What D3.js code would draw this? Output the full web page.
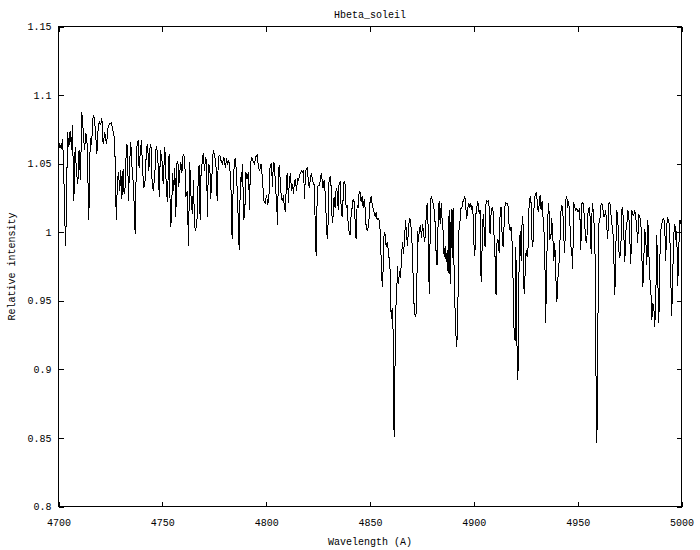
<!DOCTYPE html>
<html><head><meta charset="utf-8">
<script src="https://cdn.jsdelivr.net/npm/d3@7/dist/d3.min.js"></script>
<style>
body{margin:0;background:#fff}
text{font-family:"Liberation Mono","DejaVu Sans Mono",monospace;font-size:10px;fill:#000}
</style>
</head><body>
<svg id="chart" width="700" height="550"></svg>
<script>
const chartTitle = "Hbeta_soleil";
const xTitle = "Wavelength (A)";
const yTitle = "Relative intensity";
const xTicks = [4700, 4750, 4800, 4850, 4900, 4950, 5000];
const yTicks = [0.8, 0.85, 0.9, 0.95, 1, 1.05, 1.1, 1.15];

const wavelength = [
4700.0,4700.6,4701.4,4701.9,4702.4,4702.9,4703.4,4703.9,4704.3,4705.0,4705.6,4706.3,4706.7,4707.4,4708.0,4708.7,4709.3,4709.9,4710.6,4711.2,
4711.9,4712.5,4713.2,4713.8,4714.6,4715.3,4715.9,4716.7,4717.3,4718.0,4718.5,4718.9,4719.6,4720.2,4720.9,4721.5,4722.3,4723.1,4723.9,4724.7,
4725.5,4726.3,4726.9,4727.4,4727.8,4728.4,4728.9,4729.5,4730.0,4730.5,4731.1,4731.6,4732.1,4732.7,4733.2,4733.7,4734.3,4734.8,4735.5,4736.1,
4736.9,4737.6,4738.4,4738.8,4739.5,4740.0,4740.4,4741.1,4741.7,4742.4,4742.9,4743.5,4744.0,4744.5,4745.1,4745.7,4746.4,4746.9,4747.3,4748.0,
4748.5,4749.1,4749.8,4750.4,4751.2,
4752.0,4752.5,4753.0,4753.4,4753.9,4754.4,4754.9,4755.5,4756.0,4756.5,4757.0,4757.5,4757.9,4758.4,4758.9,4759.4,4759.9,4760.3,4760.8,4761.3,
4762.0,4762.6,4763.2,4763.9,4764.5,4765.0,4765.5,4766.1,4766.8,4767.2,4767.7,4768.2,4768.7,4769.2,4769.7,4770.3,4770.8,4771.3,4771.7,4772.2,
4772.9,4773.3,4774.0,4774.5,4775.1,4775.8,4776.4,4777.0,4777.7,4778.3,4779.0,4779.6,4780.4,4780.9,4781.4,4782.0,4782.5,4783.1,4783.6,4784.1,
4784.7,4785.2,4785.7,4786.3,4787.0,4787.6,4788.1,4788.6,4789.2,4789.7,4790.2,4790.8,4791.5,4792.0,4792.4,4793.1,4793.7,4794.4,4795.0,4795.7,
4796.3,4796.9,4797.6,4798.2,4798.9,4799.5,4800.2,4800.8,4801.4,4801.9,
4802.6,4803.0,4803.5,4804.0,4804.5,4805.0,4805.5,4805.9,4806.4,4806.9,4807.4,4807.9,4808.3,4808.8,4809.3,4809.8,4810.3,4810.7,4811.2,4811.7,
4812.2,4812.7,4813.2,4813.6,4814.1,4814.6,4815.1,4815.6,4816.0,4816.5,4817.0,4817.5,4818.0,4818.5,4818.9,4819.4,4819.9,4820.4,4820.9,4821.3,
4821.8,4822.3,4822.8,4823.3,4823.7,4824.1,4824.6,4825.0,4825.5,4826.0,4826.5,4827.0,4827.4,4827.9,4828.4,4828.9,4829.4,4829.8,4830.3,4830.8,
4831.3,4831.8,4832.3,4832.7,4833.2,4833.7,4834.2,4834.7,4835.1,4835.6,4836.1,4836.6,4837.1,4837.5,4838.0,4838.5,4839.0,4839.5,4839.9,4840.4,
4840.9,4841.4,4841.9,4842.4,4842.8,4843.3,4843.8,4844.3,4844.8,4845.3,4845.7,4846.2,4846.7,4847.2,4847.7,4848.1,4848.6,4849.1,4849.6,4850.1,
4850.6,4851.0,4851.5,
4852.5,4853.0,4853.4,4853.9,4854.4,4854.9,4855.4,4855.9,4856.3,4856.8,4857.3,4857.8,4858.3,4858.7,4859.2,4859.7,4860.0,4860.3,4860.7,4861.0,
4861.3,4861.6,4862.0,4862.3,4862.8,4863.2,4863.7,4864.2,4864.7,4865.2,4865.6,4866.1,4866.6,4867.1,4867.6,4868.1,4868.5,4869.0,4869.5,4870.0,
4870.5,4870.9,4871.4,4871.9,4872.4,4872.9,4873.3,4873.8,4874.3,4874.8,4875.3,4875.8,4876.2,4876.7,4877.2,4877.7,4878.2,4878.5,4879.0,4879.4,
4879.9,4880.4,4880.9,4881.4,4881.9,4882.3,4882.8,4883.3,4883.8,4884.3,4884.7,4885.2,4885.7,4886.2,4886.7,4887.2,4887.6,4888.1,4888.6,4889.1,
4889.6,4890.0,4890.5,4891.0,4891.5,4891.8,4892.3,4892.8,4893.3,4893.7,4894.2,4894.7,4895.2,4895.7,4896.1,4896.6,4897.1,4897.6,4898.1,4898.5,
4899.0,4899.5,4900.0,4900.5,4901.0,4901.4,4901.9,
4902.6,4903.0,4903.5,4904.0,4904.5,4905.0,4905.4,4905.9,4906.4,4906.9,4907.4,4907.8,4908.3,4908.8,4909.3,4909.8,4910.3,4910.7,4911.2,4911.7,
4912.2,4912.7,4913.1,4913.6,4914.1,4914.6,4915.1,4915.6,4916.0,4916.5,4917.0,4917.5,4918.0,4918.4,4918.9,4919.4,4919.9,4920.2,4920.5,4920.8,
4921.2,4921.5,4921.8,4922.3,4922.8,4923.3,4923.7,4924.2,4924.7,4925.2,4925.7,4926.1,4926.6,4927.1,4927.6,4928.1,4928.6,4929.0,4929.5,4930.0,
4930.5,4931.0,4931.4,4931.9,4932.4,4932.9,4933.4,4933.9,4934.3,4934.6,4935.1,4935.6,4936.1,4936.6,4937.1,4937.5,4938.0,4938.5,4939.0,4939.5,
4940.0,4940.4,4940.9,4941.4,4941.9,4942.4,4942.8,4943.3,4943.8,4944.3,4944.8,4945.2,4945.7,4946.2,4946.7,4947.2,4947.6,4948.1,4948.6,4949.1,
4949.6,4950.1,4950.5,4951.0,4951.5,
4952.1,4952.6,4953.1,4953.6,4954.1,4954.6,4955.0,4955.5,4956.0,4956.5,4957.0,4957.4,4957.9,4958.4,4958.9,4959.2,4959.5,4959.9,4960.2,4960.7,
4961.1,4961.6,4962.1,4962.6,4963.1,4963.5,4964.0,4964.5,4965.0,4965.5,4965.9,4966.4,4966.9,4967.4,4967.9,4968.4,4968.8,4969.3,4969.8,4970.3,
4970.8,4971.2,4971.7,4972.2,4972.7,4973.2,4973.7,4974.1,4974.6,4975.1,4975.6,4976.1,4976.5,4977.0,4977.5,4978.0,4978.5,4978.9,4979.4,4979.9,
4980.4,4980.9,4981.4,4981.8,4982.3,4982.8,4983.3,4983.8,4984.2,4984.7,4985.2,4985.7,4986.2,4986.7,4987.1,4987.6,4988.1,4988.6,4989.1,4989.5,
4990.0,4990.5,4991.0,4991.5,4991.9,4992.4,4992.9,4993.4,4993.9,4994.4,4994.8,4995.3,4995.8,4996.3,4996.8,4997.3,4997.7,4998.2,4998.7,4999.2,
4999.7
];

const intensity = [
1.060,1.064,1.061,1.068,1.053,1.018,0.990,1.021,1.073,1.062,1.074,1.060,1.078,1.023,1.062,1.043,1.035,1.060,1.038,1.088,
1.074,1.060,1.072,1.064,1.009,1.069,1.064,1.085,1.083,1.069,1.057,1.072,1.081,1.078,1.083,1.064,1.073,1.064,1.077,1.079,
1.080,1.073,1.069,1.047,1.009,1.038,1.044,1.030,1.045,1.024,1.046,1.028,1.033,1.064,1.063,1.023,1.052,1.066,1.044,1.035,
0.999,1.061,1.067,1.047,1.060,1.067,1.047,1.032,1.038,1.062,1.064,1.045,1.061,1.064,1.035,1.030,1.043,1.060,1.063,1.049,
1.026,1.060,1.053,1.035,1.062,
1.030,1.022,1.055,1.056,1.004,1.009,1.043,1.030,1.047,1.011,1.050,1.052,1.033,1.044,1.051,1.043,1.055,1.057,1.052,1.026,
1.030,0.990,1.051,1.023,1.013,1.038,1.004,1.001,1.011,1.035,1.049,1.009,1.047,1.050,1.058,1.045,1.055,1.052,1.011,1.050,
1.047,1.024,1.045,1.060,1.057,1.050,1.023,1.055,1.056,1.052,1.050,1.055,1.047,1.054,1.050,1.052,1.047,1.030,0.995,1.033,
1.052,1.054,1.043,1.021,0.987,1.040,1.037,1.050,1.009,1.013,1.044,1.039,1.044,1.016,1.050,1.054,1.052,1.050,1.055,1.056,
1.047,1.045,1.050,1.039,1.023,1.021,1.027,1.020,1.028,1.049,
1.050,1.033,1.051,1.050,1.033,1.023,1.005,1.046,1.049,1.033,1.024,1.023,1.027,1.018,1.015,1.040,1.043,1.021,1.039,1.043,
1.030,1.035,1.028,1.037,1.038,1.030,1.039,1.038,1.041,1.043,1.045,1.044,1.045,1.024,1.044,1.046,1.047,1.034,1.033,1.040,
1.043,1.038,1.035,1.035,0.994,0.983,1.030,1.034,1.034,1.037,1.043,1.038,1.032,1.038,1.029,1.011,0.995,1.006,1.039,1.040,
1.033,1.007,1.012,1.026,1.018,1.032,1.030,1.016,1.035,1.037,1.018,1.011,1.026,1.037,1.035,1.018,1.020,1.006,1.001,0.998,
1.012,1.018,1.024,1.022,1.009,0.995,1.020,1.018,1.030,1.029,1.022,1.026,1.018,1.024,1.017,1.005,1.001,1.003,1.011,1.024,
1.026,1.021,1.017,
1.011,1.015,1.009,1.010,1.009,1.001,0.979,0.960,0.972,1.000,0.998,0.989,0.993,0.988,0.981,0.972,0.945,0.937,0.945,0.943,
0.894,0.851,0.894,0.944,0.950,0.975,0.962,0.972,0.967,0.982,0.993,0.984,0.993,1.009,0.998,0.990,1.002,1.010,1.009,0.999,
0.984,0.958,0.941,0.938,0.943,1.001,0.993,1.002,1.005,0.996,1.006,1.000,0.993,0.998,1.018,1.021,0.989,0.955,1.001,1.026,
1.024,1.021,1.016,1.006,0.981,0.976,1.007,1.023,1.006,1.021,1.010,1.001,0.982,0.990,0.978,0.987,0.970,1.016,0.962,1.017,
0.981,1.018,0.972,0.941,0.921,0.916,0.943,1.001,1.007,1.017,1.017,1.022,1.024,1.026,1.018,1.010,1.018,1.021,1.018,1.021,
1.017,1.019,0.992,0.983,1.013,1.018,1.023,
1.013,1.016,0.964,0.989,1.013,1.002,0.989,1.023,1.022,1.023,1.018,0.999,1.013,1.018,1.015,0.995,0.979,0.954,0.995,0.994,
0.985,1.017,1.018,0.999,0.989,1.006,1.022,1.021,1.021,1.019,1.004,1.001,1.004,0.993,0.965,0.926,0.921,0.989,0.965,0.916,
0.892,0.916,0.979,1.001,0.979,1.012,1.006,0.955,0.970,0.987,0.982,0.989,1.019,1.026,1.021,0.989,0.994,1.019,1.027,1.029,
1.023,1.015,1.019,1.027,1.016,1.023,1.009,0.998,0.971,0.934,0.977,1.011,1.021,0.995,0.996,1.010,0.999,0.979,0.992,0.967,
0.949,0.965,0.974,0.989,1.015,1.019,1.018,0.996,0.985,1.024,1.026,1.018,1.023,1.009,0.990,0.985,0.973,1.022,1.018,1.016,
1.017,1.015,1.016,1.017,0.987,
1.022,1.021,1.013,1.001,0.992,0.999,1.015,1.018,1.011,0.984,1.021,1.017,1.006,0.982,0.882,0.846,0.870,0.965,1.006,1.009,
1.019,1.021,1.018,1.011,1.013,1.016,1.004,0.995,1.021,1.022,1.016,1.006,1.004,0.982,0.954,0.989,1.016,1.012,0.987,0.981,
0.989,1.016,1.018,0.999,0.978,1.001,1.006,1.016,1.013,0.995,0.977,1.016,1.013,1.012,1.016,1.011,1.002,0.992,1.013,1.011,
1.009,0.983,0.960,0.977,1.002,0.995,0.976,1.009,0.989,0.967,0.960,0.936,0.948,0.945,0.931,0.948,0.998,0.965,0.934,0.977,
1.001,1.006,1.009,1.010,1.006,0.979,1.006,1.010,1.009,0.998,0.968,0.939,0.970,0.999,1.006,0.994,1.001,0.961,0.989,1.009,
1.006
];

const svg = d3.select("#chart");
const W = 700, H = 550;
const pLeft = 58.5, pRight = 681.5, pTop = 26.5, pBottom = 506.5;

const x = d3.scaleLinear().domain([xTicks[0], xTicks[xTicks.length - 1]]).range([pLeft, pRight]);
const y = d3.scaleLinear().domain([yTicks[0], yTicks[yTicks.length - 1]]).range([pBottom, pTop]);
const fmt = d => String(d);

svg.append("rect").attr("width", W).attr("height", H).attr("fill", "#fff");

// Axes (inward ticks)
const gx = svg.append("g").attr("transform", `translate(0,${pBottom})`)
  .call(d3.axisBottom(x).tickValues(xTicks).tickSize(-5).tickPadding(12).tickFormat(fmt));
const gy = svg.append("g").attr("transform", `translate(${pLeft},0)`)
  .call(d3.axisLeft(y).tickValues(yTicks).tickSize(-5).tickPadding(7).tickFormat(fmt));
const gxt = svg.append("g").attr("transform", `translate(0,${pTop})`)
  .call(d3.axisTop(x).tickValues(xTicks).tickSize(-5).tickFormat(""));
const gyr = svg.append("g").attr("transform", `translate(${pRight},0)`)
  .call(d3.axisRight(y).tickValues(yTicks).tickSize(-5).tickFormat(""));
[gx, gy, gxt, gyr].forEach(g => {
  g.select(".domain").remove();
  g.selectAll("line").attr("stroke", "#000").attr("shape-rendering", "crispEdges");
  g.selectAll("text").attr("font-family", null).attr("font-size", null).attr("fill", "#000");
});

// frame
svg.append("rect")
  .attr("x", pLeft).attr("y", pTop)
  .attr("width", pRight - pLeft).attr("height", pBottom - pTop)
  .attr("fill", "none").attr("stroke", "#000").attr("stroke-width", 1)
  .attr("shape-rendering", "crispEdges");

// spectrum line (aliased, like the original bitmap plot)
const n = Math.min(wavelength.length, intensity.length);
const line = d3.line()
  .x((d, i) => x(wavelength[i]))
  .y(d => y(d));
svg.append("path")
  .datum(intensity.slice(0, n))
  .attr("d", line)
  .attr("fill", "none")
  .attr("stroke", "#000")
  .attr("stroke-width", 1)
  .attr("shape-rendering", "crispEdges");

// titles
svg.append("text").attr("x", (pLeft + pRight) / 2).attr("y", 18)
  .attr("text-anchor", "middle").text(chartTitle);
svg.append("text").attr("x", (pLeft + pRight) / 2).attr("y", 545)
  .attr("text-anchor", "middle").text(xTitle);
svg.append("text")
  .attr("transform", `translate(15,${(pTop + pBottom) / 2}) rotate(-90)`)
  .attr("text-anchor", "middle").text(yTitle);
</script>
</body></html>
